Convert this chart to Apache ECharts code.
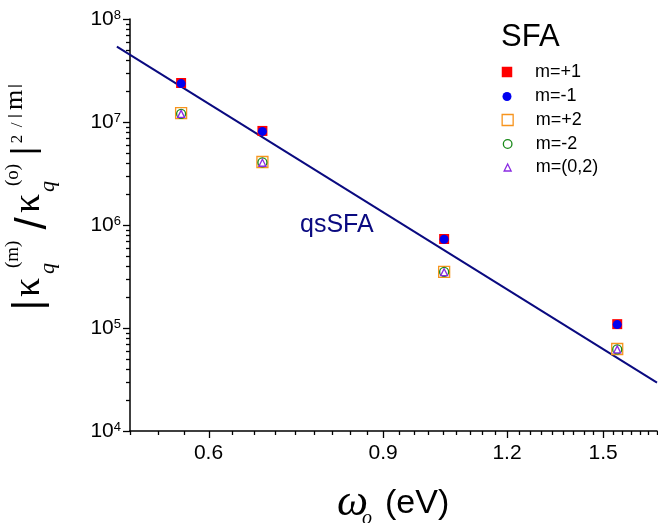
<!DOCTYPE html>
<html><head><meta charset="utf-8">
<script src="https://cdn.jsdelivr.net/npm/echarts@6/dist/echarts.min.js"></script>
<style>html,body{margin:0;padding:0;background:#fff}#c{width:658px;height:523px}</style>
</head><body><div id="c"></div>
<script>
// ---- data ----
const omega      = [0.563, 0.680, 1.037, 1.55];      // photon energy (eV)
const sfaPlus1   = [2.39e7, 8.19e6, 7.31e5, 1.09e5];  // m=+1
const sfaMinus1  = [2.36e7, 8.10e6, 7.28e5, 1.08e5];  // m=-1
const sfaPlus2   = [1.22e7, 4.09e6, 3.50e5, 6.25e4];  // m=+2
const sfaMinus2  = [1.20e7, 4.05e6, 3.50e5, 6.20e4];  // m=-2
const sfaM02     = [1.20e7, 4.02e6, 3.48e5, 6.20e4];  // m=(0,2)
const qsOmega    = [0.485, 1.7];                      // qsSFA line
const qsValue    = [5.4e7, 2.95e4];
const xTickLabels = [0.6, 0.9, 1.2, 1.5];
const yTickValues = [1e4, 1e5, 1e6, 1e7, 1e8];
const xRange = [0.5, 1.7];
const yRange = [1e4, 1e8];
const legendNames = ['m=+1', 'm=-1', 'm=+2', 'm=-2', 'm=(0,2)'];

const L = Math.log10;
const xMinorTicks = [];
for (let k = 15; k <= 51; k++) { if (k % 9 !== 0) xMinorTicks.push(k / 30); }
const yMinorTicks = [];
for (let d = 4; d < 8; d++) for (let m = 2; m <= 9; m++) yMinorTicks.push(m * Math.pow(10, d));

const pair = (xs, ys) => xs.map((x, i) => [x, ys[i]]);
const SANS = '"Liberation Sans", Arial, sans-serif';
const SERIF = '"Liberation Serif", "Times New Roman", serif';
const NAVY = '#0a0a80';

const chart = echarts.init(document.getElementById('c'), null, {renderer: 'canvas'});

const axisBlack = {color: '#000', width: 1.5};
const xAxes = [
  {type: 'log', logBase: 10, min: xRange[0], max: xRange[1], show: false},
  {type: 'value', min: L(xRange[0]), max: L(xRange[1]), position: 'bottom',
   axisLine: {show: true, onZero: false, lineStyle: axisBlack},
   axisTick: {show: false},
   axisLabel: {show: true, customValues: xTickLabels.map(L), margin: 12, color: '#000', fontSize: 21, fontFamily: SANS,
               formatter: v => Math.pow(10, v).toFixed(1)},
   splitLine: {show: false}}
];
const yAxes = [
  {type: 'log', logBase: 10, min: yRange[0], max: yRange[1], show: false},
  {type: 'value', min: L(yRange[0]), max: L(yRange[1]), position: 'left',
   axisLine: {show: true, onZero: false, lineStyle: axisBlack},
   axisTick: {show: false},
   axisLabel: {show: true, customValues: yTickValues.map(L), margin: 9,
               formatter: v => '{b|10}{s|' + Math.round(v) + '}',
               rich: {b: {fontSize: 21, fontFamily: SANS, color: '#000', lineHeight: 21},
                      s: {fontSize: 13, fontFamily: SANS, color: '#000', lineHeight: 13, verticalAlign: 'top'}}},
   splitLine: {show: false}}
];

// axis ticks drawn through the log axes
const tickSeries = (vals, dim, len) => ({
  type: 'custom', clip: false, silent: true, z: 10,
  data: vals.map(v => [v]),
  renderItem: (params, api) => {
    const v = api.value(0);
    if (dim === 'x') {
      const p = api.coord([v, yRange[0]]);
      const x = Math.round(p[0]) + 0.5;
      return {type: 'line', shape: {x1: x, y1: p[1], x2: x, y2: p[1] + len}, style: {stroke: '#000', lineWidth: 1.3}};
    }
    const p = api.coord([xRange[0], v]);
    const y = Math.round(p[1]) + 0.5;
    return {type: 'line', shape: {x1: p[0] - len, y1: y, x2: p[0], y2: y}, style: {stroke: '#000', lineWidth: 1.3}};
  }
});

// qsSFA straight line (extends a little left of the y axis, as in the reference)
const qsLine = {
  type: 'custom', name: 'qsSFA', clip: false, silent: true, z: 1,
  data: pair(qsOmega, qsValue),
  renderItem: (params, api) => {
    const i = params.dataIndex;
    if (i >= qsOmega.length - 1) return null;
    const a = api.coord([api.value(0), api.value(1)]);
    const b = api.coord([qsOmega[i + 1], qsValue[i + 1]]);
    return {type: 'line', shape: {x1: a[0], y1: a[1], x2: b[0], y2: b[1]}, style: {stroke: NAVY, lineWidth: 2}};
  }
};

const hollow = c => ({color: 'rgba(255,255,255,0)', borderColor: c, borderWidth: 1.3, opacity: 1});
const series = [
  qsLine,
  {type: 'scatter', name: legendNames[0], data: pair(omega, sfaPlus1), symbol: 'rect', symbolSize: 10,
   itemStyle: {color: '#ff0000', opacity: 1}, z: 2},
  {type: 'scatter', name: legendNames[1], data: pair(omega, sfaMinus1), symbol: 'circle', symbolSize: 9,
   itemStyle: {color: '#0000f0', opacity: 1}, z: 3},
  {type: 'scatter', name: legendNames[2], data: pair(omega, sfaPlus2), symbol: 'rect', symbolSize: 11,
   itemStyle: hollow('#f7941d'), z: 4},
  {type: 'scatter', name: legendNames[3], data: pair(omega, sfaMinus2), symbol: 'circle', symbolSize: 9,
   itemStyle: hollow('#1a8a1a'), z: 5},
  {type: 'scatter', name: legendNames[4], data: pair(omega, sfaM02), symbol: 'triangle', symbolSize: 7,
   itemStyle: hollow('#8a2be2'), z: 6},
  tickSeries(xTickLabels, 'x', 7),
  tickSeries(xMinorTicks, 'x', 4),
  tickSeries(yTickValues, 'y', 7),
  tickSeries(yMinorTicks, 'y', 4)
];
series.forEach(s => { s.xAxisIndex = 0; s.yAxisIndex = 0; s.emphasis = {disabled: true}; });

const legendCenters = [72, 96.5, 120, 144, 167.5];
const legendSizes = [10.5, 9, 11, 8.6, 7];
const legends = legendNames.map((n, i) => {
  const s = legendSizes[i];
  return {
    data: [n], orient: 'vertical', left: 507 - s / 2, top: legendCenters[i] - 9, padding: 0,
    itemWidth: s, itemHeight: s, selectedMode: false,
    itemStyle: i >= 2 ? {borderWidth: 1.3, opacity: 1} : {opacity: 1},
    textStyle: {fontSize: 18, fontFamily: SANS, color: '#000', lineHeight: 18, padding: [0, 0, 0, 23 - s / 2]}
  };
});

const t = (x, y, text, font, extra) => Object.assign({type: 'text', x: x, y: y,
  style: Object.assign({text: text, font: font, fill: '#000', align: 'left', verticalAlign: 'middle'}, extra || {})});

const graphics = [
  t(501, 37.3, 'SFA', '31px ' + SANS),
  t(300, 225, 'qsSFA', '25px ' + SANS, {fill: NAVY}),
  // x axis title
  t(337, 503, 'ω', 'italic 44px ' + SERIF),
  t(362, 518.5, 'o', 'italic 20px ' + SERIF),
  t(385, 503.7, '(eV)', '34px ' + SANS),
  // y axis title (rotated group)
  {type: 'group', x: 42, y: 305, rotation: Math.PI / 2, children: [
    t(0, -12, '|', '40px ' + SANS, {align: 'center'}),
    t(8, -12.8, 'κ', '38px ' + SERIF),
    t(31, 6.6, 'q', 'italic 22px ' + SERIF),
    t(37, -28.8, '(m)', '19px ' + SERIF),
    t(81.5, -8, '/', '44px ' + SANS, {align: 'center'}),
    t(92, -12.8, 'κ', '38px ' + SERIF),
    t(113, 6.6, 'q', 'italic 22px ' + SERIF),
    t(119, -28.8, '(o)', '19px ' + SERIF),
    t(154, -17.3, '|', '33px ' + SANS, {align: 'center'}),
    t(166, -24.7, '2', '17px ' + SERIF, {align: 'center'}),
    t(180, -24.7, '/', '17px ' + SERIF, {align: 'center'}),
    t(189, -26.8, '|', '15px ' + SANS, {align: 'center'}),
    t(205, -26.4, 'm', '26px ' + SERIF, {align: 'center'}),
    t(219, -26.8, '|', '15px ' + SANS, {align: 'center'})
  ]}
];

chart.setOption({
  animation: false,
  backgroundColor: '#fff',
  grid: {left: 130, right: 1, top: 19, bottom: 92, containLabel: false, outerBoundsMode: 'none'},
  xAxis: xAxes,
  yAxis: yAxes,
  legend: legends,
  series: series,
  graphic: graphics
});
</script>
</body></html>
